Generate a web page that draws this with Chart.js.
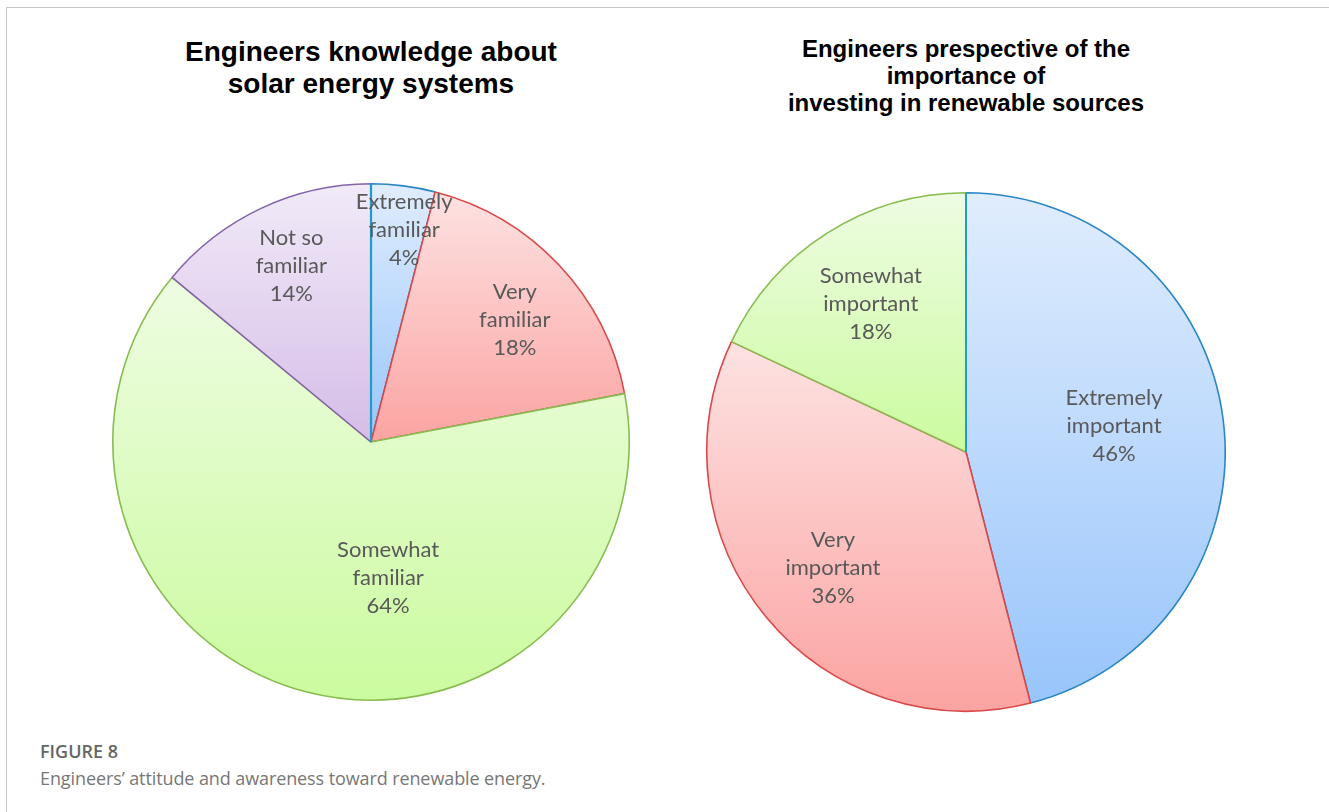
<!DOCTYPE html>
<html>
<head>
<meta charset="utf-8">
<script src="https://cdn.jsdelivr.net/npm/chart.js@4.4.1/dist/chart.umd.min.js"></script>
<style>
  body { margin: 0; background: #fff; }
  #page { position: relative; width: 1329px; height: 812px; overflow: hidden; background: #fff; }
  .frame { position: absolute; left: 6px; top: 7px; right: 0; bottom: 0;
           border-top: 1px solid #c6c6c6; border-left: 1px solid #c6c6c6; }
  .title { position: absolute; width: 600px; text-align: center; color: #000;
           font-family: "Liberation Sans", Arial, sans-serif; font-weight: bold; }
  #title1 { left: 71px; top: 36px; font-size: 28px; line-height: 32px; }
  #title2 { left: 666px; top: 35px; font-size: 24px; line-height: 27px; }
  .pie { position: absolute; width: 530px; height: 530px; }
  #wrap1 { left: 106px; top: 177px; }
  #wrap2 { left: 701px; top: 187px; }
  .caption { position: absolute; left: 40px; font-family: "Open Sans", sans-serif; white-space: nowrap; }
  #figno { top: 739px; font-size: 18px; font-weight: 600; color: #666; }
  #figtext { top: 766px; font-size: 18px; color: #777; letter-spacing: -0.1px; }
</style>
</head>
<body>
<div id="page">
  <div class="frame"></div>
  <div class="title" id="title1">Engineers knowledge about<br>solar energy systems</div>
  <div class="title" id="title2">Engineers prespective of the<br>importance of<br>investing in renewable sources</div>
  <div class="pie" id="wrap1"><canvas id="knowledgeChart"></canvas></div>
  <div class="pie" id="wrap2"><canvas id="investChart"></canvas></div>
  <div class="caption" id="figno">FIGURE 8</div>
  <div class="caption" id="figtext">Engineers’ attitude and awareness toward renewable energy.</div>
</div>

<script>
// knowledge about solar energy systems (%)
const knowledgeLabels = ['Extremely familiar', 'Very familiar', 'Somewhat familiar', 'Not so familiar'];
const knowledgeValues = [4, 18, 64, 14];

// importance of investing in renewable sources (%)
const investLabels = ['Extremely important', 'Very important', 'Somewhat important'];
const investValues = [46, 36, 18];

// gradient stops (top, bottom) and outline per colour family
const BLUE = { fill: ['#e0edfd', '#98c5fb'], line: '#2a86c4' };
const RED = { fill: ['#fde2e2', '#fba4a2'], line: '#d9494b' };
const GREEN = { fill: ['#eefce2', '#cbfb9f'], line: '#88bc50' };
const PURPLE = { fill: ['#f1eaf8', '#d5bde7'], line: '#8463a9' };

// top/bottom y of a slice, so each slice gets its own vertical gradient
function verticalExtent(el) {
  const { x, y, startAngle, endAngle, outerRadius: r } = el;
  let minY = y, maxY = y;
  [startAngle, endAngle].forEach(a => {
    const py = y + r * Math.sin(a);
    minY = Math.min(minY, py);
    maxY = Math.max(maxY, py);
  });
  const covers = t => {
    for (let k = -2; k <= 2; k++) {
      const v = t + 2 * Math.PI * k;
      if (v >= startAngle - 1e-9 && v <= endAngle + 1e-9) return true;
    }
    return false;
  };
  if (covers(-Math.PI / 2)) minY = y - r;
  if (covers(Math.PI / 2)) maxY = y + r;
  return [minY, maxY];
}

function sliceFill(palette) {
  return (context) => {
    const stops = palette[context.dataIndex].fill;
    const el = context.element;
    if (!el || !el.outerRadius) return stops[1];
    const [top, bottom] = verticalExtent(el);
    const g = context.chart.ctx.createLinearGradient(0, top, 0, bottom);
    g.addColorStop(0, stops[0]);
    g.addColorStop(1, stops[1]);
    return g;
  };
}

// redraw the 12 o'clock edge in the colour of the first slice
const leadingEdge = {
  id: 'leadingEdge',
  afterDatasetsDraw(chart, args, opts) {
    const arc = chart.getDatasetMeta(0).data[0];
    if (!arc) return;
    const { ctx } = chart;
    ctx.save();
    ctx.strokeStyle = opts.color;
    ctx.lineWidth = opts.width;
    ctx.beginPath();
    ctx.moveTo(arc.x, arc.y);
    ctx.lineTo(arc.x + arc.outerRadius * Math.cos(arc.startAngle),
               arc.y + arc.outerRadius * Math.sin(arc.startAngle));
    ctx.stroke();
    ctx.restore();
  }
};

// category / percentage text inside each slice
const sliceLabels = {
  id: 'sliceLabels',
  afterDatasetsDraw(chart, args, opts) {
    const { ctx } = chart;
    const meta = chart.getDatasetMeta(0);
    const values = chart.data.datasets[0].data;
    ctx.save();
    ctx.font = opts.font;
    ctx.fillStyle = opts.color;
    ctx.textAlign = 'center';
    ctx.textBaseline = 'middle';
    meta.data.forEach((arc, i) => {
      const place = opts.place[i];
      const name = chart.data.labels[i];
      const cut = name.lastIndexOf(' ');
      const lines = [name.slice(0, cut), name.slice(cut + 1), values[i] + '%'];
      const mid = (arc.startAngle + arc.endAngle) / 2 + place.shift * Math.PI / 180;
      const cx = arc.x + arc.outerRadius * place.r * Math.cos(mid);
      const cy = arc.y + arc.outerRadius * place.r * Math.sin(mid);
      lines.forEach((t, j) => {
        ctx.fillText(t, cx, cy + (j - 1) * opts.lineHeight);
      });
    });
    ctx.restore();
  }
};

function makePie(id, labels, values, palette, edge, place, pad) {
  const chart = new Chart(document.getElementById(id).getContext('2d'), {
    type: 'pie',
    data: {
      labels: labels,
      datasets: [{
        data: values,
        backgroundColor: sliceFill(palette),
        borderColor: palette.map(p => p.line),
        borderWidth: 1.6,
        hoverOffset: 0
      }]
    },
    options: {
      responsive: true,
      maintainAspectRatio: false,
      animation: false,
      events: [],
      layout: { padding: pad },
      plugins: {
        legend: { display: false },
        tooltip: { enabled: false },
        leadingEdge: edge,
        sliceLabels: {
          font: '22px Lato, "Open Sans", sans-serif',
          color: '#595959',
          lineHeight: 28,
          place: place
        }
      }
    },
    plugins: [leadingEdge, sliceLabels]
  });
  // second pass so the gradients can read the finished slice geometry
  chart.update();
  return chart;
}

makePie('knowledgeChart', knowledgeLabels, knowledgeValues,
  [BLUE, RED, GREEN, PURPLE],
  { color: '#1f9dc8', width: 2.2 },
  [{ r: 0.83, shift: 1.7 }, { r: 0.73, shift: 2.9 }, { r: 0.53, shift: -21.6 }, { r: 0.75, shift: 0.9 }],
  6);

makePie('investChart', investLabels, investValues,
  [BLUE, RED, GREEN],
  { color: '#1f9dc8', width: 2 },
  [{ r: 0.58, shift: -2.8 }, { r: 0.68, shift: -1.4 }, { r: 0.68, shift: -0.3 }],
  5);
</script>
</body>
</html>
